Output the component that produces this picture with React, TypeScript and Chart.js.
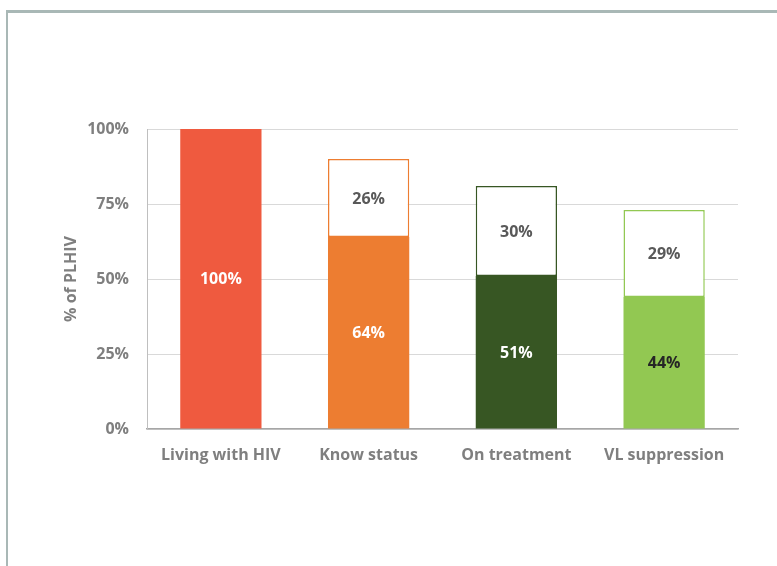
import React, { useEffect, useRef } from "react";
import { Chart, registerables } from "chart.js";

Chart.register(...registerables);

const categories = ["Living with HIV", "Know status", "On treatment", "VL suppression"];
const achieved = [100, 64, 51, 44];
const gap = [0, 26, 30, 29];
const yTicks = [0, 25, 50, 75, 100];
const barColors = ["#EF5A3F", "#ED7D31", "#375623", "#92C852"];
const achievedLabelColors = ["#FFFFFF", "#FFFFFF", "#FFFFFF", "#262626"];

const FONT = "'Open Sans', Lato, sans-serif";

const labelPlugin = {
  id: "barLabels",
  afterDatasetsDraw(chart: any) {
    const ctx = chart.ctx;
    ctx.save();
    ctx.font = `bold 16px ${FONT}`;
    ctx.textAlign = "center";
    ctx.textBaseline = "middle";
    chart.data.datasets.forEach((ds: any, di: number) => {
      const meta = chart.getDatasetMeta(di);
      meta.data.forEach((el: any, i: number) => {
        const v = ds.data[i];
        if (!v) return;
        const { x, y, base } = el.getProps(["x", "y", "base"], true);
        ctx.fillStyle = di === 0 ? achievedLabelColors[i] : "#595959";
        ctx.fillText(`${v}%`, x, (y + base) / 2 + 1);
      });
    });
    ctx.restore();
  },
};

export default function App() {
  const ref = useRef<HTMLCanvasElement>(null);
  useEffect(() => {
    if (!ref.current) return;
    const chart = new Chart(ref.current, {
      type: "bar",
      data: {
        labels: categories,
        datasets: [
          {
            label: "Achieved",
            data: achieved,
            backgroundColor: barColors,
            borderWidth: 0,
            categoryPercentage: 1,
            barPercentage: 0.55,
          },
          {
            label: "Gap",
            data: gap,
            backgroundColor: "#FFFFFF",
            borderColor: barColors,
            borderWidth: 1.5,
            borderSkipped: false,
            categoryPercentage: 1,
            barPercentage: 0.55,
          },
        ],
      },
      options: {
        animation: false,
        responsive: false,
        maintainAspectRatio: false,
        layout: { padding: { left: 55, top: 129, right: 39, bottom: 97 } },
        plugins: { legend: { display: false }, tooltip: { enabled: false } },
        scales: {
          x: {
            stacked: true,
            grid: { display: false, drawTicks: false },
            border: { color: "#A6A6A6", width: 1.5 },
            ticks: {
              color: "#7F7F7F",
              font: { family: FONT, size: 16, weight: "bold" },
              padding: 17,
              maxRotation: 0,
            },
            afterFit(scale: any) {
              scale.height = 40;
            },
          },
          y: {
            stacked: true,
            min: 0,
            max: 100,
            afterBuildTicks(scale: any) {
              scale.ticks = yTicks.map((v) => ({ value: v }));
            },
            grid: { color: "#D9D9D9", drawTicks: false, lineWidth: 1 },
            border: { color: "#BFBFBF", width: 1 },
            ticks: {
              color: "#7F7F7F",
              font: { family: FONT, size: 16, weight: "bold" },
              padding: 18,
              callback: (v: any) => `${v}%`,
            },
            title: {
              display: true,
              text: "% of PLHIV",
              color: "#7F7F7F",
              font: { family: FONT, size: 16, weight: "bold" },
              padding: { top: 7, bottom: 4 },
            },
            afterFit(scale: any) {
              scale.width = 92;
            },
          },
        },
      },
      plugins: [labelPlugin],
    });
    return () => chart.destroy();
  }, []);
  return (
    <div>
      <div
        style={{
          position: "fixed",
          left: 6,
          top: 10,
          width: 900,
          height: 700,
          borderLeft: "2px solid #A9B8B6",
          borderTop: "3px solid #A9B8B6",
          boxSizing: "border-box",
        }}
      />
      <canvas
        ref={ref}
        width={777}
        height={566}
        style={{ position: "fixed", left: 0, top: 0, width: 777, height: 566 }}
      />
    </div>
  );
}
